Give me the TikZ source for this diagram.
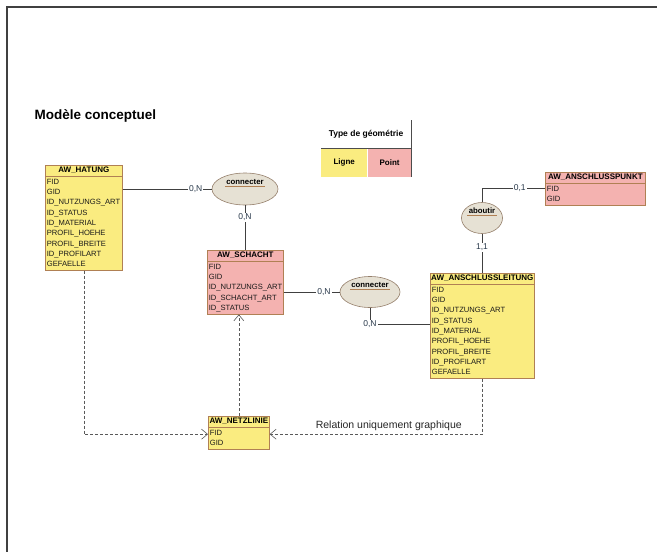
\documentclass[tikz,border=0pt]{standalone}
\usepackage{fontspec}
\setmainfont{Liberation Sans}
\usetikzlibrary{arrows.meta,positioning,shapes.geometric}

\definecolor{ligne}{RGB}{250,236,128}
\definecolor{point}{RGB}{244,178,176}
\definecolor{tabline}{RGB}{176,128,84}
\definecolor{relfill}{RGB}{230,225,212}
\definecolor{relline}{RGB}{150,128,108}
\definecolor{cardtext}{RGB}{40,56,74}

\newcommand{\relname}[1]{\textcolor{tabline}{\underline{\textcolor{black}{\,#1\,}}}}

\begin{document}
\begin{tikzpicture}[x=1pt,y=-1pt,>={Straight Barb[length=6pt,width=10pt]},
    tabhead/.style={draw=tabline,line width=0.7pt,inner sep=0pt,minimum height=10.5pt,
                    anchor=north west,font=\fontsize{8}{9}\selectfont\bfseries},
    tabbody/.style={draw=tabline,line width=0.7pt,inner xsep=1.5pt,inner ysep=0.5pt,align=left,
                    text=black!90,font=\fontsize{7.6}{10.3}\selectfont,
                    execute at begin node=\strut,execute at end node=\strut},
    relation/.style={ellipse,draw=relline,fill=relfill,line width=0.6pt,inner sep=0pt,
                     text height=5.5pt,text depth=15pt,font=\fontsize{7.8}{9}\selectfont\bfseries},
    card/.style={fill=white,inner sep=1pt,text=cardtext,font=\fontsize{8.5}{9}\selectfont},
    link/.style={draw=black!75,line width=0.6pt},
    graph link/.style={draw=black!65,line width=0.6pt,dash pattern=on 3pt off 2pt,->},
    legend cell/.style={inner sep=0pt,minimum width=46pt,minimum height=29pt,
                        font=\fontsize{8}{9}\selectfont\bfseries}]

\useasboundingbox (0,0) rectangle (657,552);
\draw[black!75,line width=1.5pt] (7,552) -- (7,7) -- (657,7);

\node[anchor=west,font=\fontsize{13.5}{16}\selectfont\bfseries] (titre) at (31,116) {Modèle conceptuel};

% legende
\node[font=\fontsize{8.5}{10}\selectfont\bfseries] (typegeo) at (366,134) {Type de géométrie};
\node[legend cell,fill=ligne,anchor=north west] (ligne) at (321,148) {Ligne};
\node[legend cell,fill=point,minimum width=44pt,right=0pt of ligne] (point) {Point};
\draw[black!70,line width=0.8pt] (ligne.north west) -- (point.north east);
\draw[black!70,line width=0.8pt] ([yshift=28pt]point.north east) -- (point.south east);

% tables
\node[tabhead,fill=ligne,minimum width=77pt] (hatung) at (45,165) {AW\_HATUNG};
\node[tabbody,fill=ligne,text width=74pt,below=0pt of hatung] (hatungB)
  {FID\\GID\\ID\_NUTZUNGS\_ART\\ID\_STATUS\\ID\_MATERIAL\\PROFIL\_HOEHE\\PROFIL\_BREITE\\ID\_PROFILART\\GEFAELLE};

\node[tabhead,fill=point,minimum width=76pt] (schacht) at (207,250) {AW\_SCHACHT};
\node[tabbody,fill=point,text width=73pt,below=0pt of schacht] (schachtB)
  {FID\\GID\\ID\_NUTZUNGS\_ART\\ID\_SCHACHT\_ART\\ID\_STATUS};

\node[tabhead,fill=ligne,minimum width=104pt] (leitung) at (430,273) {AW\_ANSCHLUSSLEITUNG};
\node[tabbody,fill=ligne,text width=101pt,below=0pt of leitung] (leitungB)
  {FID\\GID\\ID\_NUTZUNGS\_ART\\ID\_STATUS\\ID\_MATERIAL\\PROFIL\_HOEHE\\PROFIL\_BREITE\\ID\_PROFILART\\GEFAELLE};

\node[tabhead,fill=point,minimum width=100pt] (punkt) at (545,172) {AW\_ANSCHLUSSPUNKT};
\node[tabbody,fill=point,text width=97pt,below=0pt of punkt] (punktB) {FID\\GID};

\node[tabhead,fill=ligne,minimum width=61pt] (netz) at (208,416) {AW\_NETZLINIE};
\node[tabbody,fill=ligne,text width=58pt,below=0pt of netz] (netzB) {FID\\GID};

% relations
\node[relation,minimum width=66pt,minimum height=32pt] (conn1) at (245,189) {\relname{connecter}};
\node[relation,minimum width=60pt,minimum height=31pt] (conn2) at (370,292) {\relname{connecter}};
\node[relation,minimum width=40pt,minimum height=31pt] (aboutir) at (482,218) {\relname{aboutir}};

\draw[link] (hatungB.east |- conn1.west) -- node[card,pos=0.82] {0,N} (conn1.west);
\draw[link] (conn1.south) -- node[card,pos=0.27] {0,N} (conn1.south |- schacht.north);
\draw[link] (schachtB.east |- conn2.west) -- node[card,pos=0.72] {0,N} (conn2.west);
\draw[link] (conn2.south) |- node[card,pos=0.5] {0,N} ([yshift=-40pt]leitungB.north west);
\draw[link] (aboutir.north) |- node[card,pos=0.8] {0,1} ([yshift=-5pt]punktB.north west);
\draw[link] (aboutir.south) -- node[card,pos=0.35] {1,1} (aboutir.south |- leitung.north);

% liens graphiques
\draw[graph link] (hatungB.south) |- ([yshift=-7pt]netzB.north west);
\draw[graph link] (leitungB.south) |- node[pos=0.72,above,text=black!85,font=\fontsize{10.5}{12}\selectfont] (relgraph) {Relation uniquement graphique} ([yshift=-7pt]netzB.north east);
\draw[graph link] (netz.north) -- (netz.north |- schachtB.south);
\end{tikzpicture}
\end{document}
